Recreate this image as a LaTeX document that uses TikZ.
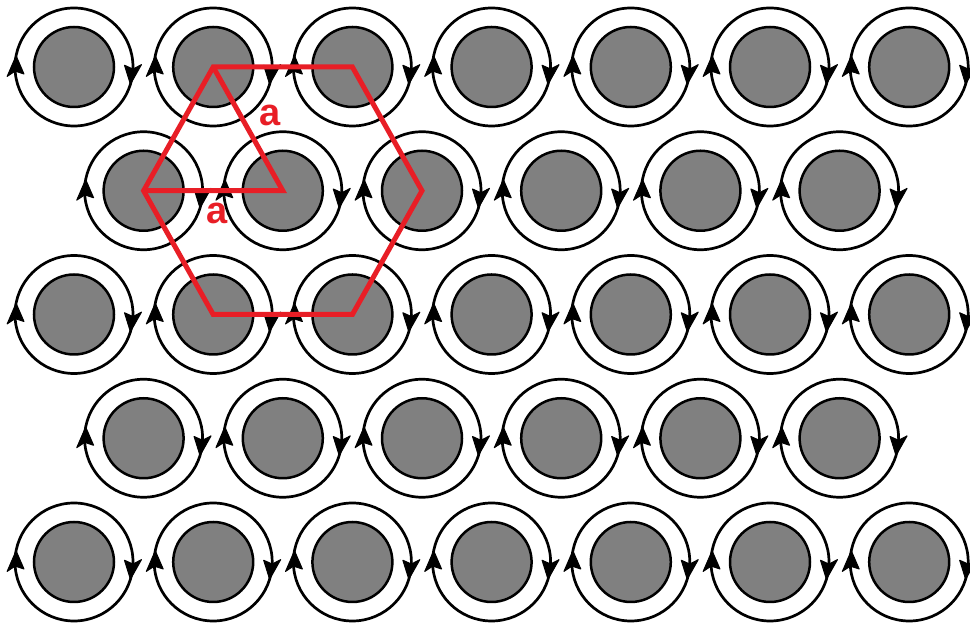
\documentclass[tikz,border=0pt]{standalone}
\usepackage{fontspec}
\setmainfont{Liberation Sans}
\definecolor{vgray}{RGB}{128,128,128}
\definecolor{hexred}{RGB}{232,30,38}
\begin{document}
\begin{tikzpicture}[x=1pt,y=1pt,
  core/.style={circle,draw=black,line width=2.5pt,fill=vgray,minimum size=80pt,inner sep=0pt},
  ringline/.style={draw=black,line width=2.7pt},
  tiphead/.style={fill=black,draw=black,line width=1pt,line join=round},
  hexline/.style={draw=hexred,line width=5pt,line join=miter},
  lbl/.style={text=hexred,inner sep=0pt,font=\bfseries\fontsize{38}{38}\selectfont}]
\useasboundingbox[fill=white] (0,0) rectangle (970,626);
\foreach \r in {0,...,4}{
  \pgfmathsetmacro{\py}{626-(67+123.75*\r)}
  \pgfmathtruncatemacro{\n}{mod(\r,2)==0 ? 7 : 6}
  \pgfmathsetmacro{\xo}{mod(\r,2)==0 ? 74 : 143.6}
  \foreach \c in {1,...,\n}{
    \node[core] (v\r-\c) at ({\xo+139.2*(\c-1)},\py) {};
    \begin{scope}[shift={(v\r-\c.center)}]
      \draw[ringline] (0,0) circle[radius=59];
      \filldraw[tiphead] (-17:59) -- (2:67.5) -- (-2:59) -- (2:50.5) -- cycle;
      \filldraw[tiphead] (169:59) -- (188:67.5) -- (184:59) -- (188:50.5) -- cycle;
    \end{scope}
  }
}
\draw[hexline] (v0-2.center) -- (v0-3.center) -- (v1-3.center) -- (v2-3.center)
  -- (v2-2.center) -- (v1-1.center) -- cycle;
\draw[hexline] (v0-2.center) -- (v1-2.center) -- (v1-1.center);
\node[lbl] (la1) at (270,511) {a};
\node[lbl] (la2) at (217,413) {a};
\end{tikzpicture}
\end{document}
